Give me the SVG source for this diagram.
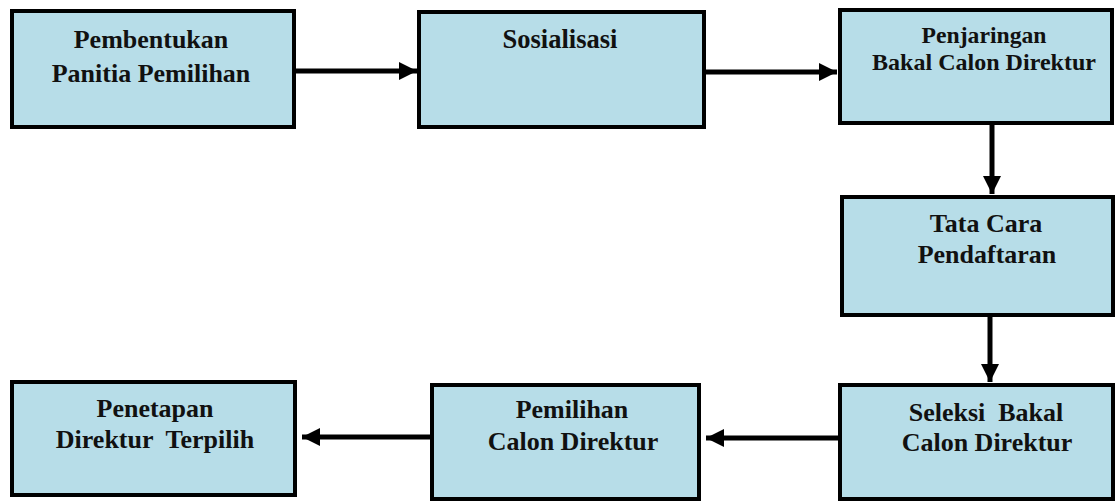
<svg xmlns="http://www.w3.org/2000/svg" width="1119" height="501" viewBox="0 0 1119 501">
<style>
.box{fill:#b7dde8;stroke:#000;stroke-width:4}
.t{font-family:"Liberation Serif","Times New Roman",serif;font-weight:bold;font-size:26px;fill:#111;text-anchor:middle}
.s{font-size:23px}
.c{stroke:#000;stroke-width:5;fill:none}
</style>
<defs>
<marker id="ah" viewBox="0 0 10 10" refX="10" refY="5" markerWidth="3.6" markerHeight="3.6" orient="auto" markerUnits="strokeWidth">
<path d="M0,0 L10,5 L0,10 z" fill="#000"/>
</marker>
</defs>
<rect width="1119" height="501" fill="#fff"/>
<g id="n1"><rect class="box" x="12" y="11" width="282" height="116"/>
<text class="t" x="151" y="48">Pembentukan</text><text class="t" x="151" y="82">Panitia Pemilihan</text></g>
<g id="n2"><rect class="box" x="419" y="12" width="285" height="115"/>
<text class="t" x="560" y="48" style="font-size:28px" textLength="115" lengthAdjust="spacingAndGlyphs">Sosialisasi</text></g>
<g id="n3"><rect class="box" x="840" y="10" width="272" height="113"/>
<text class="t s" x="984" y="43" textLength="125" lengthAdjust="spacingAndGlyphs">Penjaringan</text><text class="t s" x="984" y="70" textLength="224" lengthAdjust="spacingAndGlyphs">Bakal Calon Direktur</text></g>
<g id="n4"><rect class="box" x="842" y="197" width="271" height="118"/>
<text class="t" x="986" y="232">Tata Cara</text><text class="t" x="987" y="263">Pendaftaran</text></g>
<g id="n5"><rect class="box" x="840" y="385" width="273" height="114"/>
<text class="t" x="986" y="421" xml:space="preserve">Seleksi  Bakal</text><text class="t" x="987" y="451">Calon Direktur</text></g>
<g id="n6"><rect class="box" x="432" y="385" width="267" height="114"/>
<text class="t" x="572" y="418">Pemilihan</text><text class="t" x="573" y="450">Calon Direktur</text></g>
<g id="n7"><rect class="box" x="12" y="382" width="283" height="113"/>
<text class="t" x="155" y="417">Penetapan</text><text class="t" x="155" y="448" xml:space="preserve">Direktur  Terpilih</text></g>
<g id="connectors">
<line class="c" x1="296" y1="71" x2="417" y2="71" marker-end="url(#ah)"/>
<line class="c" x1="706" y1="72" x2="837" y2="72" marker-end="url(#ah)"/>
<line class="c" x1="992" y1="125" x2="992" y2="194" marker-end="url(#ah)"/>
<line class="c" x1="990" y1="317" x2="990" y2="382" marker-end="url(#ah)"/>
<line class="c" x1="838" y1="438" x2="706" y2="438" marker-end="url(#ah)"/>
<line class="c" x1="430" y1="437" x2="302" y2="437" marker-end="url(#ah)"/>
</g>
</svg>
